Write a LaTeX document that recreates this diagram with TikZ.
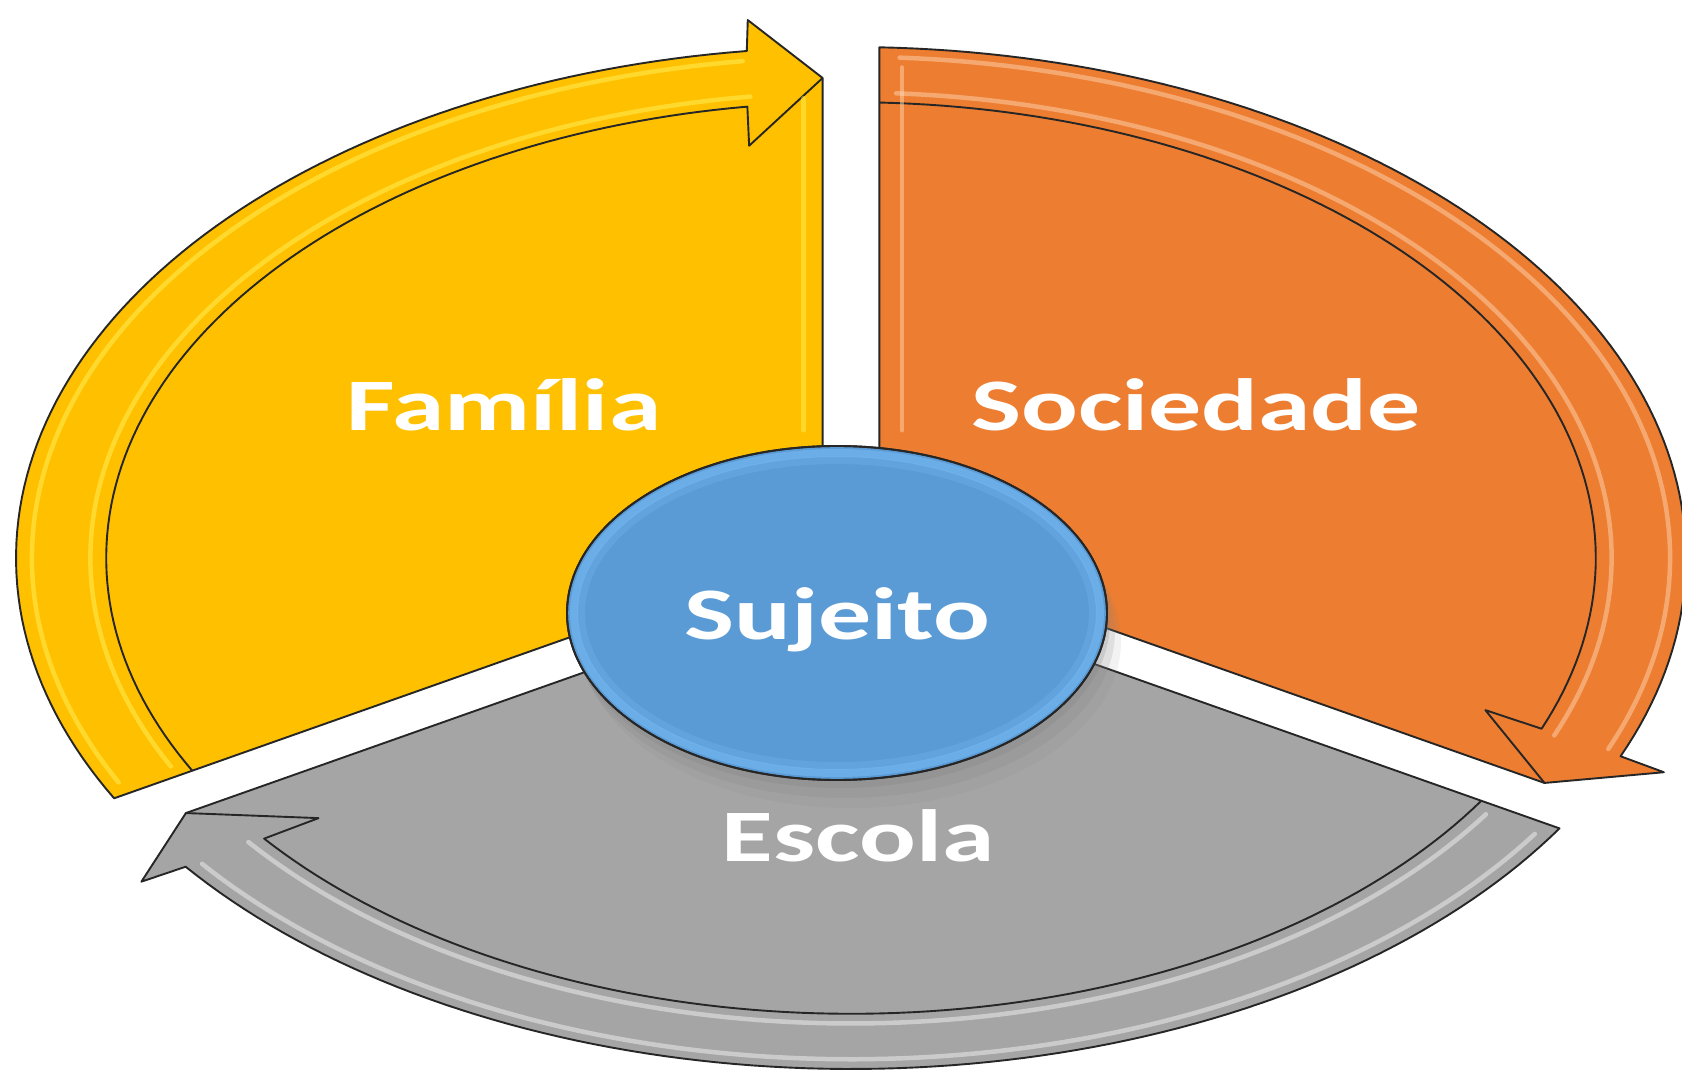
\documentclass[tikz,border=0pt]{standalone}
\usepackage{fontspec}
\usepackage{graphicx}
\setmainfont{Carlito}
\usetikzlibrary{shapes.geometric,shadows}
\definecolor{famY}{HTML}{FFC000}
\definecolor{socO}{HTML}{ED7D31}
\definecolor{escG}{HTML}{A5A5A5}
\definecolor{sujB}{HTML}{5B9BD5}
\definecolor{famHi}{HTML}{FFF35A}
\definecolor{socHi}{HTML}{FDD6B2}
\definecolor{escHi}{HTML}{F2F2F2}
\definecolor{sujRim}{HTML}{78BCF6}
\tikzset{
  outline/.style={draw=black!85, line width=1.9pt, line join=round},
  stripe/.style={line width=4.5pt, opacity=0.5, line cap=round},
  labeltext/.style={text=white, font=\fontsize{74}{80}\selectfont\bfseries, anchor=base, inner sep=0pt},
}
\newcommand{\DrawSegment}[3]{%
  \pgfmathsetmacro{\Gt}{#1+120}%
  \pgfmathsetmacro{\Va}{#1+60}%
  \pgfmathsetmacro{\To}{\Gt-1.948}%
  \pgfmathsetmacro{\Ti}{\Gt-2.185}%
  \pgfmathsetmacro{\No}{#1+7.17}%
  \pgfmathsetmacro{\Ni}{#1+8.0}%
  \pgfmathsetmacro{\Bo}{#1+6.7}%
  \pgfmathsetmacro{\Bi}{#1+8.6}%
  \pgfmathsetmacro{\Tp}{#1+2.073}%
  \pgfmathsetmacro{\Ha}{\Gt-3.4}%
  \pgfmathsetmacro{\Hb}{#1+7.6}%
  \fill[#2] (\Va:0.03926) -- (\To:1) -- plot[domain=\To:\No, samples=90, variable=\t] (\t:1) -- (\Bo:1.06) -- (\Tp:0.94) -- cycle;
  \draw[#3, stripe] plot[domain=\Ha:\Hb, samples=90, variable=\t] (\t:0.981);
  \draw[#3, stripe] plot[domain=\Ha:\Hb, samples=90, variable=\t] (\t:0.911);
  \draw[outline] (\Va:0.03926) -- (\To:1) -- plot[domain=\To:\No, samples=90, variable=\t] (\t:1) -- (\Bo:1.06) -- (\Tp:0.94) -- cycle;
  \draw[outline] plot[domain=\Ti:\Ni, samples=90, variable=\t] (\t:0.892) -- (\Bi:0.816) -- (\Tp:0.94);
}
\begin{document}
\begin{tikzpicture}[x=1pt, y=1pt]
\useasboundingbox (0,0) rectangle (1682,1072);
\fill[white] (0,0) rectangle (1682,1072);
\begin{scope}[shift={(851,514)}, xscale=835, yscale=511]
  \DrawSegment{90}{famY}{famHi}
  \DrawSegment{-30}{socO}{socHi}
  \DrawSegment{210}{escG}{escHi}
  % edge highlights along the central vertical gap
  \draw[famHi, stripe, opacity=0.45] (-0.057,0.25) -- (-0.057,0.90);
  \draw[socHi, stripe, opacity=0.5] (0.061,0.25) -- (0.061,0.96);
\end{scope}
% central circle
\node[ellipse, minimum width=540pt, minimum height=334pt, inner sep=0pt,
      fill=sujB, draw=black!85, line width=1.9pt,
      drop shadow={shadow xshift=3pt, shadow yshift=-8pt, opacity=0.22},
      drop shadow={shadow xshift=8pt, shadow yshift=-18pt, opacity=0.16},
      drop shadow={shadow xshift=14pt, shadow yshift=-28pt, opacity=0.10}] (suj) at (837,459) {};
\draw[sujRim, line width=8pt, opacity=0.55] (suj.center) ellipse [x radius=263pt, y radius=160pt];
\draw[sujRim, line width=8pt, opacity=0.25] (suj.center) ellipse [x radius=256pt, y radius=153pt];
\draw[black!85, line width=1.9pt] (suj.center) ellipse [x radius=270pt, y radius=167pt];
% labels
\node[labeltext] (famtxt) at (504,641) {\scalebox{1.43}[1]{Família}};
\node[labeltext] (soctxt) at (1196,641) {\scalebox{1.43}[1]{Sociedade}};
\node[labeltext] (sujtxt) at (837,432) {\scalebox{1.43}[1]{Sujeito}};
\node[labeltext] (esctxt) at (858,211) {\scalebox{1.43}[1]{Escola}};
\end{tikzpicture}
\end{document}
